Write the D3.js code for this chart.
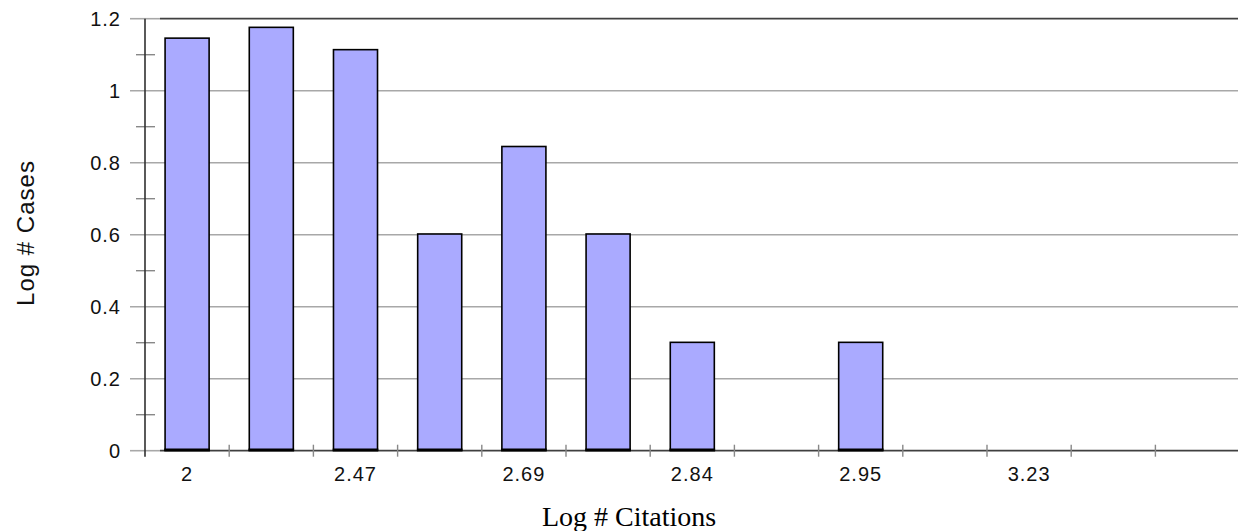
<!DOCTYPE html>
<html><head><meta charset="utf-8">
<script src="https://cdn.jsdelivr.net/npm/d3@7"></script>
<style>body{margin:0;background:#fff}svg{display:block}</style>
</head><body>
<script>
const tickLabels = ["2","","2.47","","2.69","","2.84","","2.95","","3.23","",""];
const values = [1.146,1.176,1.114,0.602,0.845,0.602,0.301,0,0.301,0,0,0,0];
const yMajor = [0,0.2,0.4,0.6,0.8,1,1.2];
const yMinor = [0.1,0.3,0.5,0.7,0.9,1.1];
const xTitle = "Log # Citations";
const yTitle = "Log # Cases";

const W = 1238, H = 531;
const pLeft = 145, pRight = 1239.6, pTop = 18.7, pBottom = 450.7;
const svg = d3.select("body").append("svg").attr("width", W).attr("height", H);

const x = d3.scaleBand().domain(d3.range(values.length)).range([pLeft, pRight]).padding(0);
const y = d3.scaleLinear().domain([0, 1.2]).range([pBottom, pTop]);
const step = x.step();
const barW = step * 0.523;

// gridlines
svg.append("g").selectAll("line").data(yMajor.filter(d => d > 0 && d < 1.2)).join("line")
  .attr("x1", 130).attr("x2", W).attr("y1", d => y(d)).attr("y2", d => y(d))
  .attr("stroke", "#a8a8a8").attr("stroke-width", 1.6);

// top border
svg.append("line").attr("x1", 130).attr("x2", 160).attr("y1", y(1.2)).attr("y2", y(1.2))
  .attr("stroke", "#a8a8a8").attr("stroke-width", 1.6);
svg.append("line").attr("x1", 160).attr("x2", W).attr("y1", y(1.2)).attr("y2", y(1.2))
  .attr("stroke", "#404040").attr("stroke-width", 1.8);

// minor y ticks
svg.append("g").selectAll("line").data(yMinor).join("line")
  .attr("x1", 136).attr("x2", 155).attr("y1", d => y(d)).attr("y2", d => y(d))
  .attr("stroke", "#888").attr("stroke-width", 1.4);

// x-axis line
svg.append("line").attr("x1", 130).attr("x2", 160).attr("y1", y(0)).attr("y2", y(0))
  .attr("stroke", "#a8a8a8").attr("stroke-width", 1.6);
svg.append("line").attr("x1", 160).attr("x2", W).attr("y1", y(0)).attr("y2", y(0))
  .attr("stroke", "#404040").attr("stroke-width", 1.8);

// x ticks at band boundaries
svg.append("g").selectAll("line").data(d3.range(1, values.length)).join("line")
  .attr("x1", d => x(d)).attr("x2", d => x(d)).attr("y1", pBottom - 6).attr("y2", pBottom + 6)
  .attr("stroke", "#888").attr("stroke-width", 1.4);

// y axis line
svg.append("line").attr("x1", pLeft).attr("x2", pLeft).attr("y1", pTop).attr("y2", pBottom + 6)
  .attr("stroke", "#303030").attr("stroke-width", 1.6);

// bars
const bars = svg.append("g").selectAll("g").data(values.map((v, i) => ({v, i})).filter(d => d.v > 0)).join("g");
bars.append("rect")
  .attr("x", d => x(d.i) + (step - barW) / 2)
  .attr("y", d => y(d.v))
  .attr("width", barW)
  .attr("height", d => y(0) - y(d.v))
  .attr("fill", "#aaaaff").attr("stroke", "#000").attr("stroke-width", 1.6);
bars.append("line")
  .attr("x1", d => x(d.i) + (step - barW) / 2 - 0.8)
  .attr("x2", d => x(d.i) + (step + barW) / 2 + 0.8)
  .attr("y1", y(0) - 1).attr("y2", y(0) - 1)
  .attr("stroke", "#000").attr("stroke-width", 2.5);

// y tick labels
svg.append("g").selectAll("text").data(yMajor).join("text")
  .attr("x", 121).attr("y", d => y(d)).attr("dy", "0.36em")
  .attr("text-anchor", "end")
  .style("font-family", "'Liberation Sans', Arial, sans-serif")
  .style("font-size", "20px").style("letter-spacing", "1px")
  .attr("fill", "#111")
  .text(d => d3.format("~g")(d));

// x tick labels
svg.append("g").selectAll("text").data(d3.range(values.length).filter(i => tickLabels[i] !== "")).join("text")
  .attr("x", i => x(i) + step / 2).attr("y", 481)
  .attr("text-anchor", "middle")
  .style("font-family", "'Liberation Sans', Arial, sans-serif")
  .style("font-size", "20px").style("letter-spacing", "1px")
  .attr("fill", "#111")
  .text(i => tickLabels[i]);

// titles
svg.append("text").attr("x", 629).attr("y", 526).attr("text-anchor", "middle")
  .style("font-family", "'Liberation Serif', 'Times New Roman', serif")
  .style("font-size", "28px").attr("fill", "#000").text(xTitle);

svg.append("text").attr("transform", "translate(34,233) rotate(-90)").attr("text-anchor", "middle")
  .style("font-family", "'Liberation Sans', Arial, sans-serif")
  .style("font-size", "24px").style("letter-spacing", "1px").attr("fill", "#111").text(yTitle);
</script>
</body></html>
